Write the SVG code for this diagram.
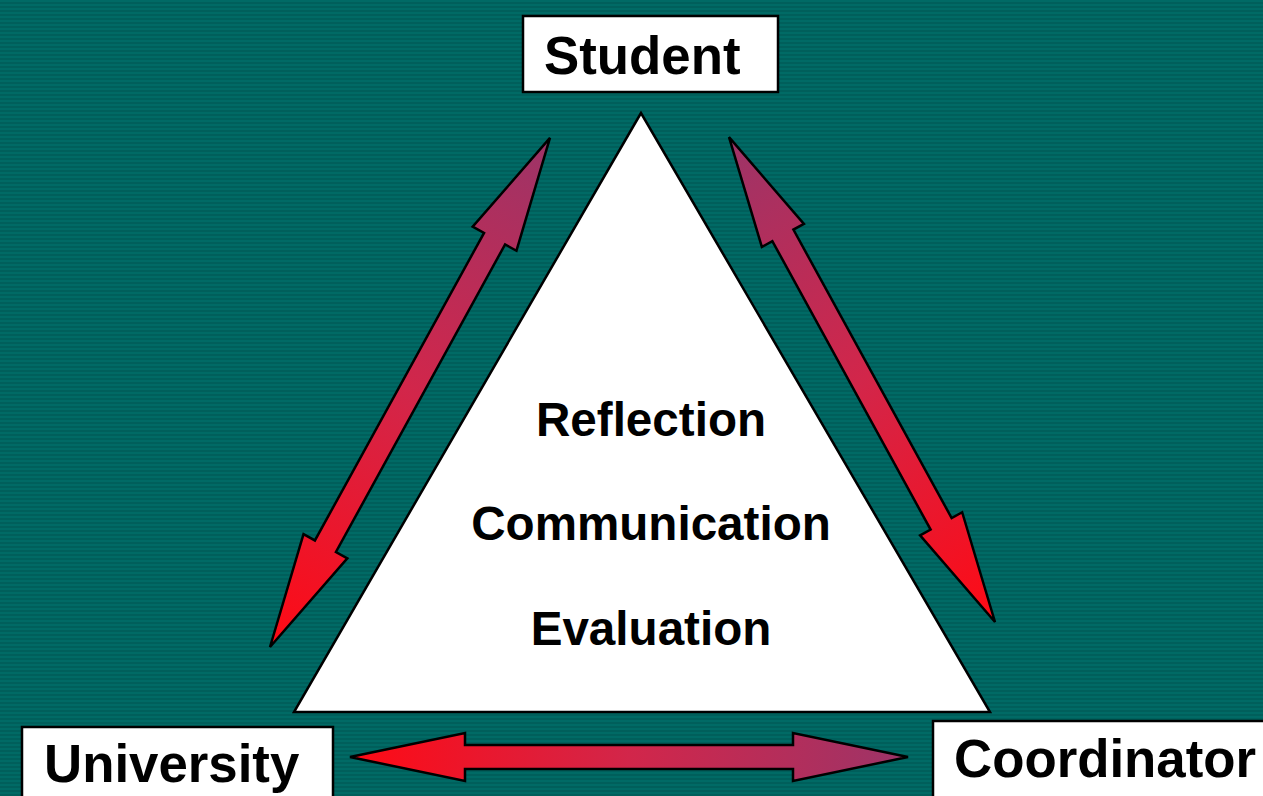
<svg xmlns="http://www.w3.org/2000/svg" width="1263" height="796" viewBox="0 0 1263 796">
  <style>
    .box { fill: #ffffff; stroke: #000000; stroke-width: 2.5; }
    .label { font-family: "Liberation Sans", Arial, sans-serif; font-weight: bold; font-size: 52.8px; fill: #000000; }
    .inner { font-family: "Liberation Sans", Arial, sans-serif; font-weight: bold; font-size: 47.6px; fill: #000000; text-anchor: middle; }
    .arrow { fill: url(#arrowGrad); stroke: #000000; stroke-width: 2.5; stroke-linejoin: miter; }
  </style>
  <defs>
    <!-- fine horizontal banding of the teal backdrop -->
    <pattern id="stripes" width="8" height="4" patternUnits="userSpaceOnUse">
      <rect width="8" height="4" fill="#006a65"/>
      <rect y="2" width="8" height="2" fill="#005f5b"/>
    </pattern>
    <!-- red at the start of each double arrow, plum at its end -->
    <linearGradient id="arrowGrad" x1="0" y1="0" x2="1" y2="0">
      <stop offset="0" stop-color="#ff0a14"/>
      <stop offset="0.5" stop-color="#d2264a"/>
      <stop offset="1" stop-color="#9c3468"/>
    </linearGradient>
  </defs>

  <rect width="1263" height="796" fill="url(#stripes)"/>

  <!-- central triangle -->
  <g id="triangle">
    <polygon points="641,113 294,712 990,712" fill="#ffffff" stroke="#000000" stroke-width="2.5" stroke-linejoin="miter"/>
    <text class="inner" x="651" y="436">Reflection</text>
    <text class="inner" x="651" y="540">Communication</text>
    <text class="inner" x="651" y="645">Evaluation</text>
  </g>

  <g id="student">
    <rect class="box" x="523" y="16" width="255" height="76"/>
    <text class="label" x="544" y="74">Student</text>
  </g>

  <g id="university">
    <rect class="box" x="22" y="727" width="311" height="80"/>
    <text class="label" x="44" y="782">University</text>
  </g>

  <g id="coordinator">
    <rect class="box" x="933" y="721" width="345" height="90"/>
    <text class="label" x="954" y="777">Coordinator</text>
  </g>

  <!-- double-headed connectors: drawn along +x from the red tip, then placed -->
  <g id="connectors">
    <path class="arrow" transform="translate(270,647) rotate(-61.19)"
          d="M0,0 L115,-25 L115,-12 L466,-12 L466,-25 L581,0 L466,25 L466,12 L115,12 L115,25 Z"/>
    <path class="arrow" transform="translate(995,622) rotate(-118.75)"
          d="M0,0 L112,-24 L112,-12 L441,-12 L441,-24 L553,0 L441,24 L441,12 L112,12 L112,24 Z"/>
    <path class="arrow" transform="translate(350,757)"
          d="M0,0 L115,-24 L115,-12 L443,-12 L443,-24 L558,0 L443,24 L443,12 L115,12 L115,24 Z"/>
  </g>
</svg>
